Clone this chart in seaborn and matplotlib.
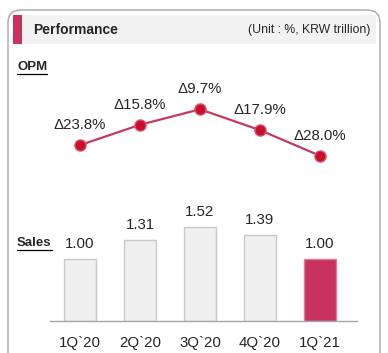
import matplotlib
matplotlib.use("Agg")
import matplotlib.pyplot as plt
from matplotlib.patches import FancyBboxPatch, Rectangle
import seaborn as sns
import pandas as pd

quarters = ["1Q`20", "2Q`20", "3Q`20", "4Q`20", "1Q`21"]
opm = [-23.8, -15.8, -9.7, -17.9, -28.0]
opm_labels = ["Δ23.8%", "Δ15.8%", "Δ9.7%", "Δ17.9%", "Δ28.0%"]
sales = [1.00, 1.31, 1.52, 1.39, 1.00]

pink = "#c8325f"
bar_grey = "#efefef"

sns.set_style("white")
plt.rcParams["font.family"] = ["Liberation Sans", "DejaVu Sans"]

W, H = 388, 353
fig = plt.figure(figsize=(W / 100, H / 100), dpi=100)

def box(x0, y0, x1, y1):
    # pixel box (top-left origin) -> figure fraction rect
    return [x0 / W, 1 - y1 / H, (x1 - x0) / W, (y1 - y0) / H]

# frame and header
frame = FancyBboxPatch((8 / W, -0.1), 372 / W, 1.1 - 10 / H,
                       boxstyle="round,pad=0,rounding_size=0.035",
                       transform=fig.transFigure, fill=False,
                       edgecolor="#a6a6a6", lw=1.0)
fig.patches.append(frame)
fig.patches.append(Rectangle((13 / W, 1 - 44 / H), 363 / W, 29 / H,
                             transform=fig.transFigure, color="#f2f2f2", lw=0))
fig.patches.append(Rectangle((13 / W, 1 - 44 / H), 9 / W, 29 / H,
                             transform=fig.transFigure, color=pink, lw=0))
fig.text(33 / W, 1 - 30 / H, "Performance", fontsize=10, fontweight="bold",
         va="center", ha="left")
fig.text(370 / W, 1 - 30 / H, "(Unit : %, KRW trillion)", fontsize=8.8,
         va="center", ha="right")
fig.text(17 / W, 1 - 67 / H, "OPM", fontsize=9.5, fontweight="bold",
         va="center", ha="left")
fig.add_artist(plt.Line2D([17 / W, 47 / W], [1 - 73.5 / H, 1 - 73.5 / H],
                          color="black", lw=0.9))
fig.text(17 / W, 1 - 243 / H, "Sales", fontsize=9.5, fontweight="bold",
         va="center", ha="left")
fig.add_artist(plt.Line2D([17 / W, 52 / W], [1 - 249.5 / H, 1 - 249.5 / H],
                          color="black", lw=0.9))

xlim = (-0.5, (357 - 50) / 60 - 0.5)

# OPM line
ax1 = fig.add_axes(box(50, 90, 357, 170))
df_opm = pd.DataFrame({"quarter": quarters, "opm": opm})
sns.lineplot(data=df_opm, x="quarter", y="opm", ax=ax1, color="#c43a5e",
             lw=1.6, marker="o", markersize=8, markerfacecolor="#c8102e",
             markeredgecolor="#d9536a", markeredgewidth=1.0, sort=False)
ax1.set_xlim(*xlim)
ax1.set_ylim(-33.6, -2.1)
for i, (v, lab) in enumerate(zip(opm, opm_labels)):
    ax1.annotate(lab, (i, v), xytext=(0, 14.5), textcoords="offset points",
                 ha="center", va="center", fontsize=10.8)
ax1.axis("off")

# Sales bars
ax2 = fig.add_axes(box(50, 200, 357, 321))
df_sales = pd.DataFrame({"quarter": quarters, "sales": sales})
colors = [bar_grey] * (len(quarters) - 1) + [pink]
sns.barplot(data=df_sales, x="quarter", y="sales", hue="quarter",
            palette=colors, legend=False, ax=ax2, width=0.52, saturation=1,
            edgecolor="#c9c9c9", linewidth=1.0)
for p, c in zip(ax2.patches, colors):
    if c == pink:
        p.set_edgecolor("#e27a98")
for i, v in enumerate(sales):
    ax2.annotate(f"{v:.2f}", (i, v), xytext=(0, 10.5), textcoords="offset points",
                 ha="center", va="center", fontsize=10.8)
ax2.set_xlim(*xlim)
ax2.set_ylim(0, 121 / 62)
ax2.set_xlabel("")
ax2.set_ylabel("")
ax2.set_yticks([])
sns.despine(ax=ax2, left=True, top=True, right=True)
ax2.spines["bottom"].set_color("#a6a6a6")
ax2.spines["bottom"].set_linewidth(1.0)
ax2.tick_params(axis="x", length=0, pad=11)
for t in ax2.get_xticklabels():
    t.set_fontsize(10.8)

fig.savefig("out.png", dpi=100)
